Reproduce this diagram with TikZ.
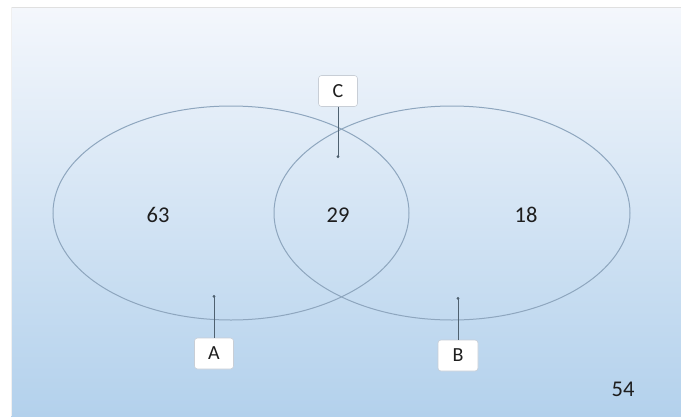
\documentclass[tikz,border=0pt]{standalone}
\usepackage{fontspec}
\setmainfont{Carlito}
\usetikzlibrary{arrows.meta}
\definecolor{topc}{HTML}{F4F7FC}
\definecolor{botc}{HTML}{B3D1EC}
\definecolor{ringc}{HTML}{8EA6BE}
\definecolor{txtc}{HTML}{1E1E1E}
\definecolor{boxc}{HTML}{C8CED6}
\definecolor{pinc}{HTML}{4F6170}
\tikzset{
  ring/.style={draw=ringc, line width=1pt},
  num/.style={text=txtc, font=\fontsize{22.5}{26}\selectfont},
  tag/.style={draw=boxc, fill=white, rounded corners=3pt, line width=0.6pt,
    minimum width=39pt, minimum height=31pt, inner sep=0pt, text=txtc,
    font=\fontsize{20}{24}\selectfont},
  pin/.style={draw=pinc, line width=0.9pt, -{Circle[length=2.8pt]}},
}
\begin{document}
\begin{tikzpicture}[x=1pt,y=-1pt]
\useasboundingbox (0,0) rectangle (681,416);
\fill[white] (0,0) rectangle (681,416);
\shade[top color=topc, bottom color=botc] (11,7) rectangle (681,416);
\draw[color=black!12, line width=0.8pt] (11,7.5) -- (681,7.5);
\draw[color=black!6, line width=0.6pt] (11.3,7) -- (11.3,416);
\draw[ring] (231,213) ellipse [x radius=178, y radius=107];
\draw[ring] (452,213) ellipse [x radius=178, y radius=107];
\node[num] (n63) at (158,215) {63};
\node[num] (n29) at (338,215) {29};
\node[num] (n18) at (526,215) {18};
\node[num] (n54) at (623,389) {54};
\coordinate (pc) at (338,158);
\coordinate (pa) at (214,295);
\coordinate (pb) at (458,297);
\node[tag] (C) at (338,91) {C};
\node[tag] (A) at (214,353.5) {A};
\node[tag, minimum width=40pt] (B) at (458,355.5) {B};
\draw[pin] (C.south) -- (pc);
\draw[pin] (A.north) -- (pa);
\draw[pin] (B.north) -- (pb);
\end{tikzpicture}
\end{document}
